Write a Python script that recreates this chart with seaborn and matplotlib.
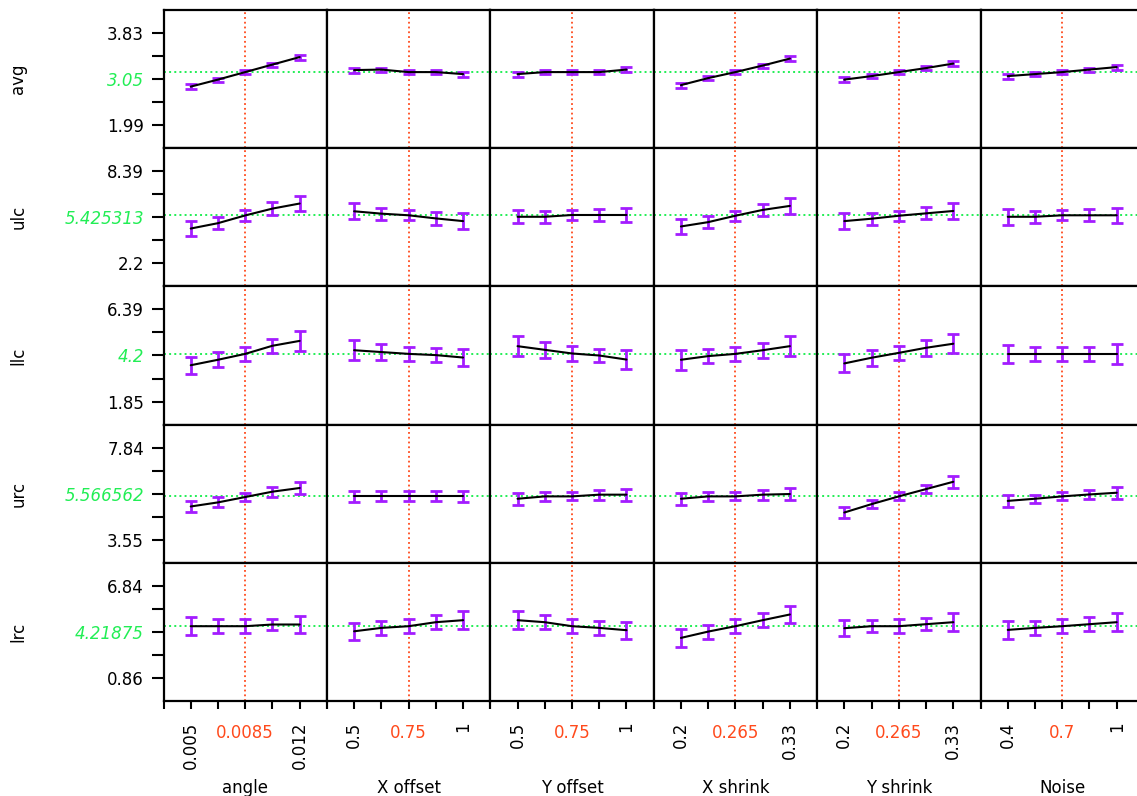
import numpy as np
import pandas as pd
import seaborn as sns
import matplotlib.pyplot as plt

# factors (columns) and their five levels
factors = ['angle', 'X offset', 'Y offset', 'X shrink', 'Y shrink', 'Noise']
levels = [
    [0.005, 0.00675, 0.0085, 0.01025, 0.012],
    [0.5, 0.625, 0.75, 0.875, 1.0],
    [0.5, 0.625, 0.75, 0.875, 1.0],
    [0.2, 0.2325, 0.265, 0.2975, 0.33],
    [0.2, 0.2325, 0.265, 0.2975, 0.33],
    [0.4, 0.55, 0.7, 0.85, 1.0],
]
x_lo_labels = ['0.005', '0.5', '0.5', '0.2', '0.2', '0.4']
x_mid_labels = ['0.0085', '0.75', '0.75', '0.265', '0.265', '0.7']
x_hi_labels = ['0.012', '1', '1', '0.33', '0.33', '1']

# responses (rows)
responses = ['avg', 'ulc', 'llc', 'urc', 'lrc']
y_lo = [1.99, 2.2, 1.85, 3.55, 0.86]
y_hi = [3.83, 8.39, 6.39, 7.84, 6.84]
y_mean = [3.05, 5.425313, 4.2, 5.566562, 4.21875]
y_mean_txt = ['3.05', '5.425313', '4.2', '5.566562', '4.21875']

avg = [[2.76, 2.90, 3.05, 3.20, 3.35],
       [3.09, 3.10, 3.05, 3.05, 3.01],
       [3.01, 3.05, 3.05, 3.05, 3.10],
       [2.79, 2.93, 3.05, 3.18, 3.32],
       [2.90, 2.97, 3.05, 3.13, 3.22],
       [2.97, 3.01, 3.05, 3.10, 3.15]]
avg_err = [[0.05, 0.04, 0.04, 0.04, 0.05]] * 6

ulc = [[4.54, 4.90, 5.42, 5.88, 6.22],
       [5.70, 5.54, 5.43, 5.22, 5.04],
       [5.33, 5.33, 5.45, 5.45, 5.45],
       [4.68, 4.97, 5.40, 5.79, 6.06],
       [5.04, 5.20, 5.40, 5.56, 5.72],
       [5.33, 5.33, 5.43, 5.43, 5.43]]
ulc_err = [[0.52, 0.39, 0.34, 0.41, 0.52],
           [0.54, 0.41, 0.34, 0.41, 0.52],
           [0.45, 0.39, 0.34, 0.41, 0.48],
           [0.52, 0.39, 0.34, 0.41, 0.52],
           [0.52, 0.39, 0.34, 0.41, 0.52],
           [0.52, 0.39, 0.34, 0.41, 0.52]]

llc = [[3.64, 3.91, 4.20, 4.60, 4.84],
       [4.38, 4.29, 4.20, 4.14, 4.02],
       [4.58, 4.40, 4.22, 4.12, 3.92],
       [3.91, 4.09, 4.20, 4.38, 4.58],
       [3.73, 4.01, 4.25, 4.50, 4.70],
       [4.20, 4.20, 4.20, 4.20, 4.20]]
llc_err = [[0.43, 0.38, 0.35, 0.34, 0.48],
           [0.48, 0.39, 0.35, 0.34, 0.44],
           [0.48, 0.38, 0.35, 0.34, 0.48],
           [0.48, 0.34, 0.35, 0.38, 0.48],
           [0.44, 0.39, 0.35, 0.39, 0.48],
           [0.44, 0.35, 0.35, 0.35, 0.48]]

urc = [[5.10, 5.29, 5.54, 5.79, 5.96],
       [5.57, 5.57, 5.57, 5.57, 5.57],
       [5.46, 5.57, 5.57, 5.65, 5.65],
       [5.46, 5.57, 5.57, 5.65, 5.68],
       [4.82, 5.21, 5.57, 5.91, 6.25],
       [5.36, 5.46, 5.57, 5.66, 5.74]]
urc_err = [[0.27, 0.23, 0.19, 0.23, 0.27],
           [0.27, 0.23, 0.23, 0.23, 0.27],
           [0.28, 0.22, 0.19, 0.23, 0.28],
           [0.28, 0.22, 0.19, 0.23, 0.28],
           [0.25, 0.20, 0.19, 0.20, 0.28],
           [0.27, 0.18, 0.19, 0.23, 0.28]]

lrc = [[4.22, 4.22, 4.22, 4.33, 4.33],
       [3.89, 4.11, 4.22, 4.48, 4.61],
       [4.61, 4.48, 4.22, 4.11, 3.96],
       [3.46, 3.87, 4.22, 4.61, 4.98],
       [4.09, 4.22, 4.22, 4.35, 4.48],
       [3.98, 4.11, 4.22, 4.35, 4.48]]
lrc_err = [[0.58, 0.45, 0.45, 0.38, 0.58],
           [0.56, 0.45, 0.45, 0.45, 0.58],
           [0.58, 0.45, 0.45, 0.45, 0.56],
           [0.58, 0.45, 0.45, 0.45, 0.58],
           [0.50, 0.38, 0.45, 0.38, 0.58],
           [0.56, 0.45, 0.45, 0.45, 0.58]]

values = [avg, ulc, llc, urc, lrc]
errors = [avg_err, ulc_err, llc_err, urc_err, lrc_err]

sns.set_theme(style='white')
plt.rcParams['font.family'] = ['DejaVu Sans']
plt.rcParams['text.color'] = 'black'
plt.rcParams['xtick.color'] = 'black'
plt.rcParams['ytick.color'] = 'black'
plt.rcParams['xtick.labelcolor'] = 'black'
plt.rcParams['ytick.labelcolor'] = 'black'

RED = '#ff4a1c'
GREEN = '#22ee55'
PURPLE = '#a31cff'
FS = 12

W_PX, H_PX = 1137, 796
fig = plt.figure(figsize=(W_PX / 100, H_PX / 100), dpi=100)

L0, CW = 163.5, 163.4   # panel layout in pixels
T0, RH = 10, 138.2

for r, resp in enumerate(responses):
    lo, hi = y_lo[r], y_hi[r]
    ystep = (hi - lo) / 4
    for c, fac in enumerate(factors):
        rect = [(L0 + c * CW) / W_PX, 1 - (T0 + (r + 1) * RH) / H_PX,
                CW / W_PX, RH / H_PX]
        ax = fig.add_axes(rect)
        xs = levels[c]
        xstep = xs[1] - xs[0]

        df = pd.DataFrame({'level': xs, 'value': values[r][c]})
        ax.axhline(y_mean[r], color=GREEN, ls=':', lw=1.4, zorder=1)
        ax.axvline(xs[2], color=RED, ls=':', lw=1.3, zorder=1)
        sns.lineplot(data=df, x='level', y='value', color='black', lw=1.5,
                     ax=ax, zorder=3)
        ax.errorbar(xs, values[r][c], yerr=errors[r][c], fmt='none',
                    ecolor=PURPLE, elinewidth=2, capsize=4.5, capthick=2,
                    zorder=2)

        ax.set_xlim(xs[0] - xstep, xs[-1] + xstep)
        ax.set_ylim(lo - ystep, hi + ystep)
        for sp in ax.spines.values():
            sp.set_color('black')
            sp.set_linewidth(1.6)
        ax.set_xlabel('')
        ax.set_ylabel('')

        # y ticks on first column only
        if c == 0:
            ax.set_yticks([lo, lo + ystep, (lo + hi) / 2, hi - ystep, hi])
            ax.set_yticklabels([f'{lo:g}', '', y_mean_txt[r], '', f'{hi:g}'],
                               fontsize=FS)
            ax.tick_params(axis='y', left=True, length=9, width=1.5,
                           pad=5, color='black', labelcolor='black')
            mid_lbl = ax.get_yticklabels()[2]
            mid_lbl.set_color(GREEN)
            mid_lbl.set_style('italic')
            ax.annotate(resp, xy=(0, 0.5), xycoords='axes fraction',
                        xytext=(-145, 0), textcoords='offset pixels',
                        rotation=90, ha='center', va='center', fontsize=FS,
                        color='black')
        else:
            ax.set_yticks([])

        # x ticks on bottom row only
        if r == len(responses) - 1:
            ax.set_xticks([xs[0] - xstep] + xs + [xs[-1] + xstep])
            ax.set_xticklabels(['', x_lo_labels[c], '', '', '',
                                x_hi_labels[c], ''],
                               rotation=90, fontsize=FS)
            ax.tick_params(axis='x', bottom=True, length=6, width=1.5,
                           pad=9, color='black', labelcolor='black')
            ax.annotate(x_mid_labels[c], xy=(xs[2], 0),
                        xycoords=('data', 'axes fraction'),
                        xytext=(0, -32), textcoords='offset pixels',
                        ha='center', va='center', color=RED, fontsize=FS)
            ax.annotate(fac, xy=(0.5, 0), xycoords='axes fraction',
                        xytext=(0, -87), textcoords='offset pixels',
                        ha='center', va='center', fontsize=FS, color='black')
        else:
            ax.set_xticks([])

plt.savefig('out.png', dpi=100)
